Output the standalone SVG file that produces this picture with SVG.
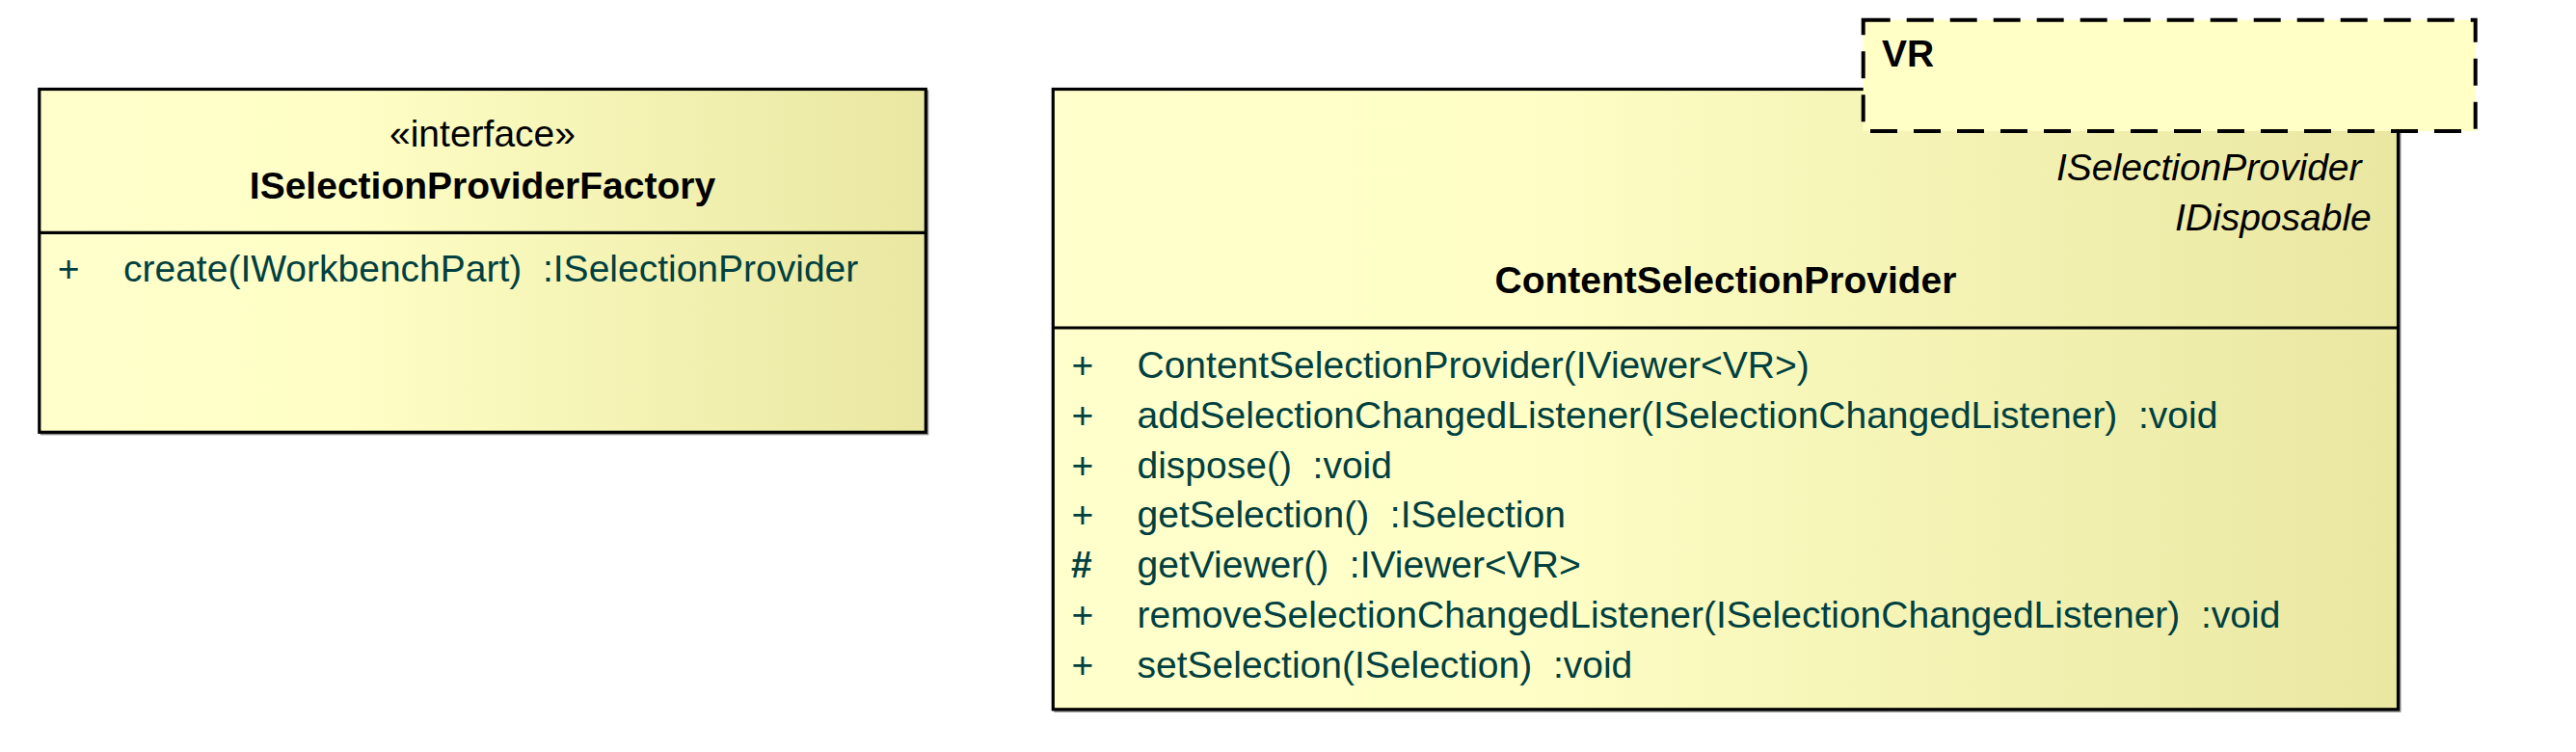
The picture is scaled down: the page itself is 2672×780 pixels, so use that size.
<svg xmlns="http://www.w3.org/2000/svg" width="2672" height="780" viewBox="0 0 2672 780">
<defs>
<linearGradient id="g" x1="0" y1="0" x2="1" y2="0">
<stop offset="0" stop-color="#FFFFCC"/>
<stop offset="0.35" stop-color="#FEFEC6"/>
<stop offset="1" stop-color="#E9E7A1"/>
</linearGradient>
<style>
.box{fill:url(#g);stroke:#000;stroke-width:3.2}
.sh{fill:none;stroke:#8a8a8a;stroke-width:2}
.div{stroke:#000;stroke-width:3.2}
.t{font-family:"Liberation Sans",Arial,sans-serif;font-size:39px;white-space:pre}
.b{font-weight:bold;fill:#000}
.n{fill:#000}
.i{font-style:italic;fill:#000}
.m{fill:#004040}
.hb{font-weight:bold}
.vr{fill:#FFFFC6;stroke:#000;stroke-width:4;stroke-dasharray:28 17}
</style>
</defs>
<rect width="2672" height="780" fill="#fff"/>
<g id="ISelectionProviderFactory">
<rect class="sh" x="42.8" y="94.5" width="919.5" height="355.8"/>
<rect class="box" x="40.8" y="92.5" width="919.5" height="355.8"/>
<line class="div" x1="40.8" y1="241.3" x2="960.3" y2="241.3"/>
<text class="t n" x="500.5" y="151.7" text-anchor="middle">«interface»</text>
<text class="t b" x="500.5" y="206" text-anchor="middle">ISelectionProviderFactory</text>
<text class="t m" x="59.8" y="291.7">+</text>
<text class="t m" x="128" y="291.7" xml:space="preserve">create(IWorkbenchPart)  :ISelectionProvider</text>
</g>
<g id="ContentSelectionProvider">
<rect class="sh" x="1094.3" y="94.5" width="1395.2" height="643.3"/>
<rect class="box" x="1092.3" y="92.5" width="1395.2" height="643.3"/>
<line class="div" x1="1092.3" y1="340" x2="2487.5" y2="340"/>
<text class="t i" x="2133" y="186.7">ISelectionProvider</text>
<text class="t i" x="2256" y="238.6">IDisposable</text>
<text class="t b" x="1790" y="304" text-anchor="middle">ContentSelectionProvider</text>
<g class="t m">
<text x="1111.5" y="391.7">+</text><text x="1179.5" y="391.7">ContentSelectionProvider(IViewer&lt;VR&gt;)</text>
<text x="1111.5" y="443.6">+</text><text x="1179.5" y="443.6" xml:space="preserve">addSelectionChangedListener(ISelectionChangedListener)  :void</text>
<text x="1111.5" y="495.5">+</text><text x="1179.5" y="495.5" xml:space="preserve">dispose()  :void</text>
<text x="1111.5" y="547.4">+</text><text x="1179.5" y="547.4" xml:space="preserve">getSelection()  :ISelection</text>
<text class="hb" x="1111" y="599.3">#</text><text x="1179.5" y="599.3" xml:space="preserve">getViewer()  :IViewer&lt;VR&gt;</text>
<text x="1111.5" y="651.2">+</text><text x="1179.5" y="651.2" xml:space="preserve">removeSelectionChangedListener(ISelectionChangedListener)  :void</text>
<text x="1111.5" y="703.1">+</text><text x="1179.5" y="703.1" xml:space="preserve">setSelection(ISelection)  :void</text>
</g>
</g>
<g id="VR">
<rect class="vr" x="1932.7" y="20.7" width="635" height="115.3"/>
<text class="t b" x="1952" y="69.3">VR</text>
</g>
<g id="connectors"/>
</svg>
